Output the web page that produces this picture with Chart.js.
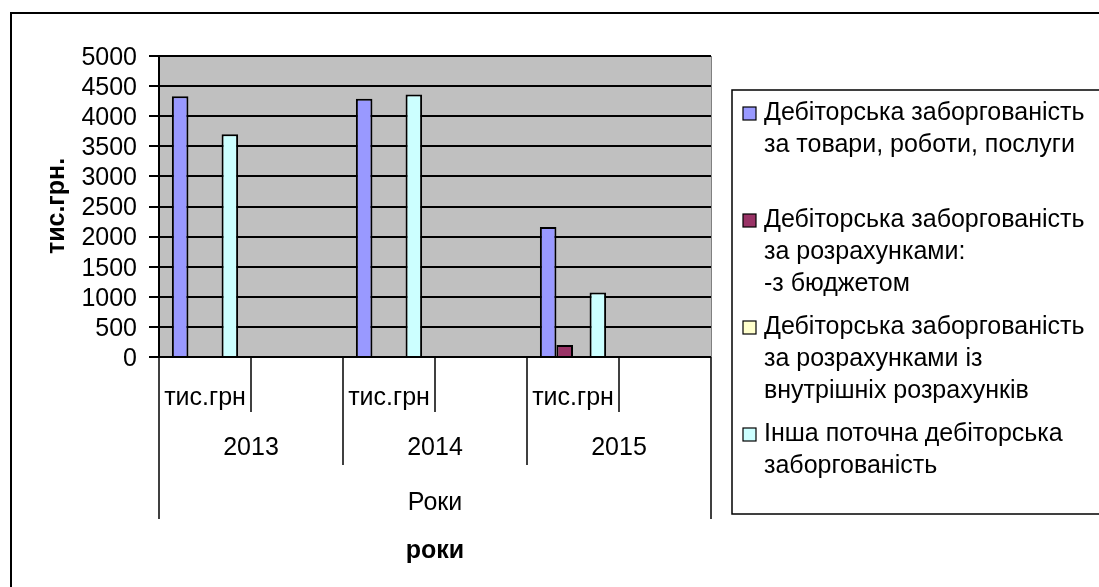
<!DOCTYPE html>
<html>
<head>
<meta charset="utf-8">
<script src="https://cdn.jsdelivr.net/npm/chart.js@4.4.0/dist/chart.umd.min.js"></script>
<style>
html,body{margin:0;padding:0;background:#fff;}
#wrap{position:relative;width:1099px;height:587px;}
</style>
</head>
<body>
<div id="wrap"><canvas id="c" width="1099" height="587"></canvas></div>
<script>
// ---- data ----
const categories = ["тис.грн", "", "тис.грн", "", "тис.грн", ""];
const years = ["2013", "2014", "2015"];
const topLabel = "Роки";
const xTitle = "роки";
const yTitle = "тис.грн.";
const yTicks = [0, 500, 1000, 1500, 2000, 2500, 3000, 3500, 4000, 4500, 5000];

const seriesNames = [
  ["Дебіторська заборгованість", "за товари, роботи, послуги"],
  ["Дебіторська заборгованість", "за розрахунками:", "-з бюджетом"],
  ["Дебіторська заборгованість", "за розрахунками із", "внутрішніх розрахунків"],
  ["Інша поточна дебіторська", "заборгованість"]
];
const tradeReceivables = [4330, null, 4290, null, 2160, null];
const budgetReceivables = [null, null, null, null, 200, null];
const internalReceivables = [null, null, null, null, null, null];
const otherReceivables = [3700, null, 4360, null, 1070, null];
const seriesColors = ["#9999FF", "#993366", "#FFFFCC", "#CCFFFF"];

const FONT = "'Liberation Sans', Arial, sans-serif";
const FS = 25;

const decor = {
  id: 'decor',
  beforeDraw(chart) {
    const {ctx, chartArea: a} = chart;
    ctx.save();
    ctx.fillStyle = '#C0C0C0';
    ctx.fillRect(a.left, a.top, a.right - a.left, a.bottom - a.top);
    ctx.restore();
  },
  afterDraw(chart) {
    const {ctx, chartArea: a} = chart;
    const x = chart.scales.x;
    const n = categories.length;
    const cw = (a.right - a.left) / n;
    ctx.save();
    // outer frame
    ctx.strokeStyle = '#000';
    ctx.lineWidth = 2;
    ctx.strokeRect(11, 13, 1200, 700);
    // plot right border
    ctx.lineWidth = 1;
    ctx.strokeStyle = '#808080';
    ctx.beginPath();
    ctx.moveTo(a.right + 0.5, a.top); ctx.lineTo(a.right + 0.5, a.bottom);
    ctx.stroke();
    // x axis multilevel ticks
    ctx.strokeStyle = '#000';
    ctx.lineWidth = 1.5;
    for (let i = 0; i <= n; i++) {
      const px = Math.round(a.left + i * cw);
      let len;
      if (i === 0 || i === n) len = 519;
      else if (i % 2 === 0) len = 465;
      else len = 412;
      ctx.beginPath();
      ctx.moveTo(px, a.bottom);
      ctx.lineTo(px, len);
      ctx.stroke();
    }
    ctx.fillStyle = '#000';
    ctx.textAlign = 'center';
    ctx.textBaseline = 'middle';
    ctx.font = FS + "px " + FONT;
    categories.forEach((c, i) => {
      if (c) ctx.fillText(c, x.getPixelForValue(i), 398);
    });
    years.forEach((y, j) => {
      ctx.fillText(y, a.left + (2 * j + 1) * cw, 448);
    });
    ctx.fillText(topLabel, (a.left + a.right) / 2, 503);
    ctx.font = "bold " + FS + "px " + FONT;
    ctx.fillText(xTitle, (a.left + a.right) / 2, 551);
    // y title
    ctx.save();
    ctx.translate(57, 206);
    ctx.rotate(-Math.PI / 2);
    ctx.fillText(yTitle, 0, 0);
    ctx.restore();
    // legend
    ctx.lineWidth = 1.5;
    ctx.strokeRect(732, 90, 500, 424);
    ctx.font = FS + "px " + FONT;
    ctx.textAlign = 'left';
    chart.data.datasets.forEach((ds, k) => {
      const y0 = 113 + k * 107;
      ctx.fillStyle = ds.backgroundColor;
      ctx.fillRect(743, y0 - 6, 13, 13);
      ctx.lineWidth = 1.2;
      ctx.strokeStyle = '#000';
      ctx.strokeRect(743, y0 - 6, 13, 13);
      ctx.fillStyle = '#000';
      ds.label.forEach((line, li) => {
        ctx.fillText(line, 764, y0 + li * 32);
      });
    });
    ctx.restore();
  }
};

const dataArrays = [tradeReceivables, budgetReceivables, internalReceivables, otherReceivables];
new Chart(document.getElementById('c'), {
  type: 'bar',
  data: {
    labels: categories,
    datasets: dataArrays.map((d, k) => ({
      label: seriesNames[k],
      data: d,
      backgroundColor: seriesColors[k],
      borderColor: '#000',
      borderWidth: 2,
      borderSkipped: 'bottom',
      categoryPercentage: 0.72,
      barPercentage: 1.0
    }))
  },
  options: {
    responsive: false,
    animation: false,
    devicePixelRatio: 1,
    layout: {padding: {left: 0, top: 56, right: 388, bottom: 230}},
    plugins: {legend: {display: false}, tooltip: {enabled: false}},
    scales: {
      x: {display: false},
      y: {
        min: 0, max: 5000,
        afterFit(s) { s.width = 159; },
        afterBuildTicks(s) { s.ticks = yTicks.map(v => ({value: v})); },
        border: {display: true, color: '#000', width: 2},
        grid: {color: '#000', lineWidth: 2, tickLength: 10, drawTicks: true, tickColor: '#000'},
        ticks: {color: '#000', padding: 12, autoSkip: false, labelOffset: 2, font: {family: FONT, size: FS},
                callback: v => String(v)}
      }
    }
  },
  plugins: [decor]
});
</script>
</body>
</html>
